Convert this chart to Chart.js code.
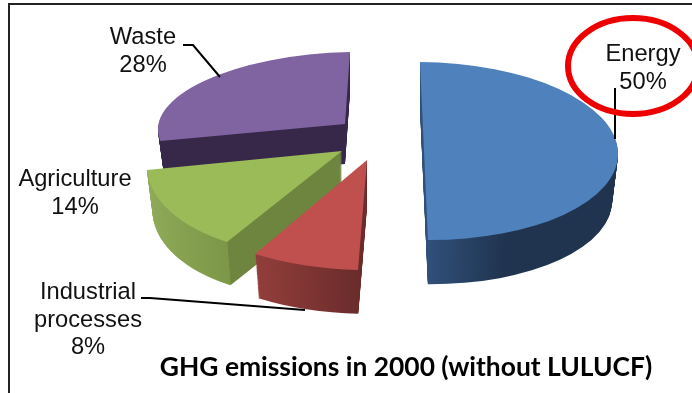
<!DOCTYPE html>
<html lang="en">
<head>
    <meta charset="UTF-8">
    <title>GHG emissions in 2000</title>
    <script src="https://cdn.jsdelivr.net/npm/chart.js"></script>
    <style>
        html, body { margin: 0; padding: 0; background: #ffffff; }
        canvas { display: block; }
    </style>
</head>
<body>
    <canvas id="ghgChart" width="692" height="393"></canvas>

    <script>
    const categories = ['Energy', 'Industrial processes', 'Agriculture', 'Waste'];
    const shares = [50, 8, 14, 28];
    const chartTitle = 'GHG emissions in 2000 (without LULUCF)';

    const faceColors = ['#4f81bd', '#c0504d', '#9bbb59', '#8064a2'];
    // wall colour stops, running across the slice from left to right
    const wallStops = [
        [[0.5, '#30507a'], [0.7, '#20344f'], [1, '#20344f']],
        [[0.26, '#923e3b'], [0.5, '#6a2c2b']],
        [[0, '#90ab5a'], [0.259, '#7b9747'], [0.26, '#6e8540'], [1, '#6e8540']],
        [[0, '#37284a'], [1, '#37284a']]
    ];

    // each slice sits on its own tilted plane: apex, basis vectors, wall height
    const planes = [
        { apex: [424, 151], ux: [194, 1], uy: [4, 89], depth: 47 },
        { apex: [367, 160], ux: [216, 5], uy: [-9, 110], depth: 47 },
        { apex: [342, 151], ux: [194, 0.5], uy: [-24.6, 104], depth: 46 },
        { apex: [345, 124], ux: [187, -3.6], uy: [-5, 72], depth: 40 }
    ];
    const paintOrder = [3, 2, 1, 0];
    const wallTaper = 0.03;

    // text blocks: centre x, first baseline y, line gap
    const labelSpots = [
        { x: 643, y: 61, lines: ['Energy'] },
        { x: 88, y: 299, lines: ['Industrial', 'processes'] },
        { x: 75, y: 186, lines: ['Agriculture'] },
        { x: 143, y: 44, lines: ['Waste'] }
    ];
    const leaders = [
        [[615, 88], [615, 139]],
        [[141, 298], [150, 298], [305, 310]],
        [[183, 45], [193, 45], [220, 77]]
    ];

    function drawSlice(ctx, arc, plane, fill, lift, shrink) {
        const r = arc.outerRadius;
        const saved = arc.options;
        arc.options = { ...saved, backgroundColor: fill };
        ctx.save();
        ctx.translate(plane.apex[0], plane.apex[1] + lift);
        ctx.scale(shrink, shrink);
        ctx.transform(plane.ux[0] / r, plane.ux[1] / r, plane.uy[0] / r, plane.uy[1] / r, 0, 0);
        ctx.translate(-arc.x, -arc.y);
        arc.draw(ctx);
        ctx.restore();
        arc.options = saved;
    }

    const tiltedPie = {
        id: 'tiltedPie',
        beforeDatasetsDraw(chart) {
            const ctx = chart.ctx;
            const arcs = chart.getDatasetMeta(0).data;
            paintOrder.forEach(i => {
                const arc = arcs[i];
                const plane = planes[i];
                const r = arc.outerRadius;
                const wall = ctx.createLinearGradient(arc.x - r, 0, arc.x + r, 0);
                wallStops[i].forEach(s => wall.addColorStop(s[0], s[1]));
                for (let d = plane.depth; d > 0; d--) {
                    drawSlice(ctx, arc, plane, wall, d, 1 - wallTaper * d / plane.depth);
                }
                drawSlice(ctx, arc, plane, faceColors[i], 0, 1);
            });
            return false;
        },
        beforeDatasetDraw() {
            return false;
        },
        afterDraw(chart) {
            const ctx = chart.ctx;
            ctx.save();

            // frame along the top and left
            ctx.strokeStyle = '#222222';
            ctx.lineWidth = 2;
            ctx.beginPath();
            ctx.moveTo(692, 4);
            ctx.lineTo(9, 4);
            ctx.lineTo(9, 393);
            ctx.stroke();

            // leader lines
            ctx.strokeStyle = '#000000';
            ctx.lineWidth = 2;
            leaders.forEach(line => {
                ctx.beginPath();
                line.forEach((p, i) => i ? ctx.lineTo(p[0], p[1]) : ctx.moveTo(p[0], p[1]));
                ctx.stroke();
            });

            // ring around the largest share
            ctx.strokeStyle = '#ee0000';
            ctx.lineWidth = 6;
            ctx.beginPath();
            ctx.ellipse(633, 66, 65, 48, 0, 0, Math.PI * 2);
            ctx.stroke();

            // category labels with their percentages
            ctx.fillStyle = '#111111';
            ctx.font = '23.7px "Liberation Sans"';
            ctx.textAlign = 'center';
            labelSpots.forEach((spot, i) => {
                const rows = spot.lines.concat(shares[i] + '%');
                rows.forEach((row, n) => ctx.fillText(row, spot.x, spot.y + n * 27.5));
            });

            ctx.fillStyle = '#000000';
            ctx.font = 'bold 26.4px Lato';
            ctx.fillText(chartTitle, 406, 376);
            ctx.restore();
        }
    };

    new Chart(document.getElementById('ghgChart').getContext('2d'), {
        type: 'pie',
        data: {
            labels: categories,
            datasets: [{
                data: shares,
                backgroundColor: faceColors,
                borderWidth: 0,
                radius: 100
            }]
        },
        options: {
            responsive: false,
            animation: false,
            plugins: {
                legend: { display: false },
                tooltip: { enabled: false }
            }
        },
        plugins: [tiltedPie]
    });
    </script>
</body>
</html>
